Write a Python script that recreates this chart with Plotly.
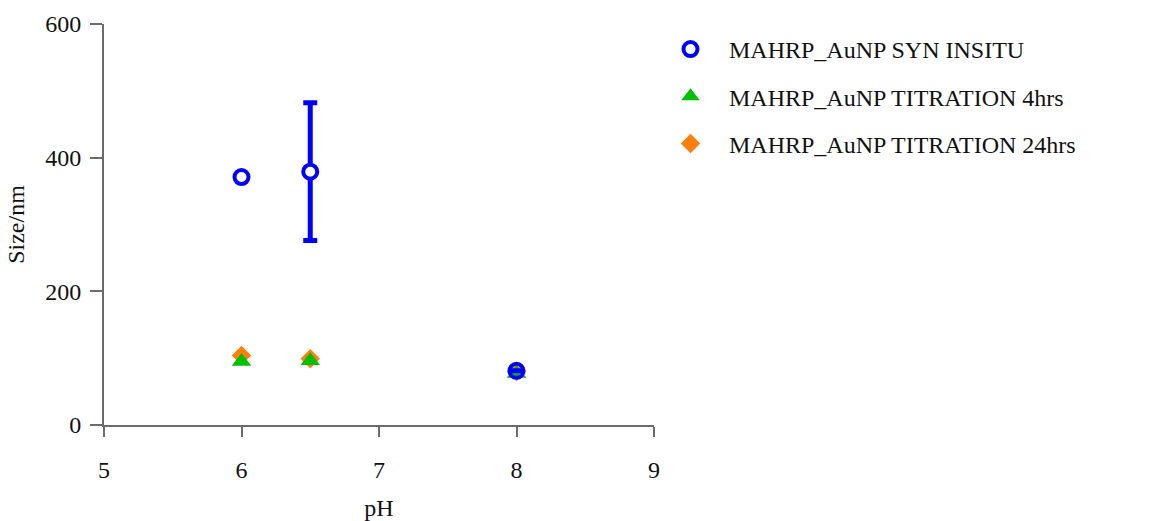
import plotly.graph_objects as go

# pH values of the samples
ph = [6.0, 6.5, 8.0]

# Particle size (nm) per series
syn_insitu = [371, 379, 81]
syn_insitu_err = [None, 103, None]
titration_4h = [95, 96, 77]
titration_24h = [104, 99, 80]

names = [
    "MAHRP_AuNP SYN INSITU",
    "MAHRP_AuNP TITRATION 4hrs",
    "MAHRP_AuNP TITRATION 24hrs",
]

FONT = "Liberation Serif, Times New Roman, serif"
AXIS = "#6b6b6b"
TXT = "#111111"

fig = go.Figure()

# drawn bottom-up so the open circles sit on top
fig.add_trace(go.Scatter(
    x=ph, y=titration_24h, mode="markers", name=names[2],
    legendgroup="g3", legendrank=3,
    marker=dict(symbol="diamond", size=15, color="#ff7f0e", line=dict(width=0)),
))
fig.add_trace(go.Scatter(
    x=ph, y=titration_4h, mode="markers", name=names[1],
    legendgroup="g2", legendrank=2,
    marker=dict(symbol="triangle-up", size=17, color="#00c000", line=dict(width=0)),
))
# ring markers: white centre where the error bar passes, see-through at pH 8
fig.add_trace(go.Scatter(
    x=ph, y=syn_insitu, mode="markers", name=names[0],
    legendgroup="g1", legendrank=1,
    marker=dict(symbol="circle", size=14,
                color=["white", "white", "rgba(0,0,0,0)"],
                line=dict(width=4, color="#0000ff")),
    error_y=dict(type="data", array=syn_insitu_err, visible=True,
                 color="#0000ff", thickness=5, width=7),
))

fig.update_layout(
    width=1172, height=521,
    margin=dict(l=104, r=518, t=24, b=96, autoexpand=False),
    paper_bgcolor="white", plot_bgcolor="white",
    font=dict(family=FONT, size=24, color=TXT),
    showlegend=True,
    legend=dict(
        traceorder="grouped", tracegroupgap=13,
        xref="container", yref="container",
        x=652 / 1172, y=1 - 27 / 521, xanchor="left", yanchor="top",
        font=dict(family=FONT, size=24, color=TXT),
        bgcolor="rgba(0,0,0,0)", itemwidth=67,
    ),
    xaxis=dict(
        range=[5, 9], tickvals=[5, 6, 7, 8, 9], showgrid=False, zeroline=False,
        showline=True, linecolor=AXIS, linewidth=2, automargin=False,
        ticks="outside", ticklen=10, tickwidth=2, tickcolor=AXIS,
        ticklabelstandoff=12,
        title=dict(text="pH", standoff=20, font=dict(family=FONT, size=24)),
    ),
    yaxis=dict(
        range=[0, 600], tickvals=[0, 200, 400, 600], showgrid=False, zeroline=False,
        showline=True, linecolor=AXIS, linewidth=2, automargin=False,
        ticks="outside", ticklen=12, tickwidth=2, tickcolor=AXIS,
        ticklabelstandoff=4,
        title=dict(text="Size/nm", standoff=14, font=dict(family=FONT, size=24)),
    ),
)

fig.write_html("out.html")
